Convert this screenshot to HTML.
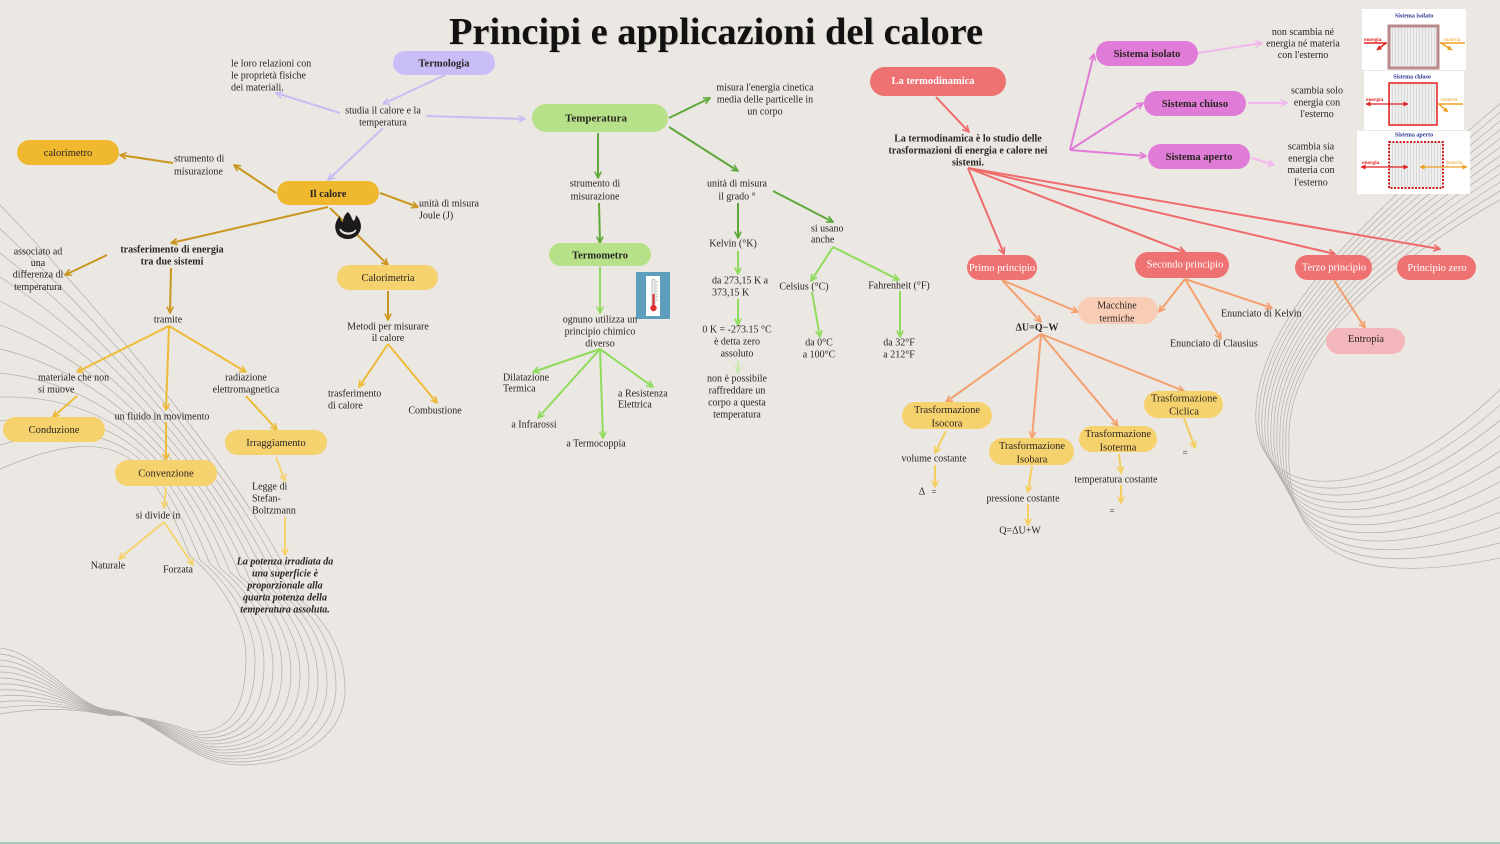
<!DOCTYPE html>
<html><head><meta charset="utf-8"><style>
html,body{margin:0;padding:0;background:#ebe7e2;}
svg{display:block;}
text{font-family:"Liberation Serif",serif;fill:#2a2522;font-size:10px;}
.b{font-weight:bold;}
.m{text-anchor:middle;}
.w{fill:#ffffff;}
</style></head><body>
<svg width="1500" height="844" viewBox="0 0 1500 844" xmlns="http://www.w3.org/2000/svg">
<defs>
<marker id="mg" viewBox="0 0 10 10" refX="9" refY="5" markerWidth="8" markerHeight="8" orient="auto" markerUnits="userSpaceOnUse"><path d="M1,1 L9,5 L1,9" fill="none" stroke="#c9971f" stroke-width="2"/></marker>
<marker id="my" viewBox="0 0 10 10" refX="9" refY="5" markerWidth="8" markerHeight="8" orient="auto" markerUnits="userSpaceOnUse"><path d="M1,1 L9,5 L1,9" fill="none" stroke="#eebb38" stroke-width="2"/></marker>
<marker id="ml" viewBox="0 0 10 10" refX="9" refY="5" markerWidth="8" markerHeight="8" orient="auto" markerUnits="userSpaceOnUse"><path d="M1,1 L9,5 L1,9" fill="none" stroke="#f5d470" stroke-width="2"/></marker>
<marker id="mv" viewBox="0 0 10 10" refX="9" refY="5" markerWidth="8" markerHeight="8" orient="auto" markerUnits="userSpaceOnUse"><path d="M1,1 L9,5 L1,9" fill="none" stroke="#c6bdf4" stroke-width="2"/></marker>
<marker id="mdg" viewBox="0 0 10 10" refX="9" refY="5" markerWidth="8" markerHeight="8" orient="auto" markerUnits="userSpaceOnUse"><path d="M1,1 L9,5 L1,9" fill="none" stroke="#5fa83a" stroke-width="2"/></marker>
<marker id="mlg" viewBox="0 0 10 10" refX="9" refY="5" markerWidth="8" markerHeight="8" orient="auto" markerUnits="userSpaceOnUse"><path d="M1,1 L9,5 L1,9" fill="none" stroke="#8fdc5c" stroke-width="2"/></marker>
<marker id="mvg" viewBox="0 0 10 10" refX="9" refY="5" markerWidth="8" markerHeight="8" orient="auto" markerUnits="userSpaceOnUse"><path d="M1,1 L9,5 L1,9" fill="none" stroke="#c6eba8" stroke-width="2"/></marker>
<marker id="mr" viewBox="0 0 10 10" refX="9" refY="5" markerWidth="8" markerHeight="8" orient="auto" markerUnits="userSpaceOnUse"><path d="M1,1 L9,5 L1,9" fill="none" stroke="#ef6b6b" stroke-width="2"/></marker>
<marker id="mo" viewBox="0 0 10 10" refX="9" refY="5" markerWidth="8" markerHeight="8" orient="auto" markerUnits="userSpaceOnUse"><path d="M1,1 L9,5 L1,9" fill="none" stroke="#f4a06e" stroke-width="2"/></marker>
<marker id="mm" viewBox="0 0 10 10" refX="9" refY="5" markerWidth="8" markerHeight="8" orient="auto" markerUnits="userSpaceOnUse"><path d="M1,1 L9,5 L1,9" fill="none" stroke="#e27ad8" stroke-width="2"/></marker>
<marker id="mp" viewBox="0 0 10 10" refX="9" refY="5" markerWidth="8" markerHeight="8" orient="auto" markerUnits="userSpaceOnUse"><path d="M1,1 L9,5 L1,9" fill="none" stroke="#f2b7ec" stroke-width="2"/></marker>
<marker id="mt" viewBox="0 0 10 10" refX="9" refY="5" markerWidth="8" markerHeight="8" orient="auto" markerUnits="userSpaceOnUse"><path d="M1,1 L9,5 L1,9" fill="none" stroke="#f5cf60" stroke-width="2"/></marker>
<marker id="sr" viewBox="0 0 10 10" refX="9" refY="5" markerWidth="5" markerHeight="5" orient="auto" markerUnits="userSpaceOnUse"><path d="M0,0 L10,5 L0,10 z" fill="#e02020"/></marker>
<marker id="so" viewBox="0 0 10 10" refX="9" refY="5" markerWidth="5" markerHeight="5" orient="auto" markerUnits="userSpaceOnUse"><path d="M0,0 L10,5 L0,10 z" fill="#f0a020"/></marker>
<marker id="sr2" viewBox="0 0 10 10" refX="1" refY="5" markerWidth="5" markerHeight="5" orient="auto" markerUnits="userSpaceOnUse"><path d="M10,0 L0,5 L10,10 z" fill="#e02020"/></marker>
<marker id="so2" viewBox="0 0 10 10" refX="1" refY="5" markerWidth="5" markerHeight="5" orient="auto" markerUnits="userSpaceOnUse"><path d="M10,0 L0,5 L10,10 z" fill="#f0a020"/></marker>
<pattern id="stripe" width="3" height="10" patternUnits="userSpaceOnUse"><rect width="3" height="10" fill="#eeeeee"/><line x1="0.5" y1="0" x2="0.5" y2="10" stroke="#d4d4d4" stroke-width="0.8"/></pattern>
</defs>

<rect width="1500" height="844" fill="#ebe7e2"/>
<rect x="0" y="842" width="1500" height="2" fill="#a7c6be"/>

<!-- background curves left -->
<g fill="none" stroke="#9f9a98" stroke-width="0.7" opacity="0.75">
<path d="M0,648 C40,652 75,708 110,710 C150,714 190,765 240,765 C300,765 345,735 345,690 C345,650 325,620 300,600 C260,500 120,330 0,205"/>
<path d="M0,654 C40,657 75,708 110,710.5 C150,714 190,762 236,762 C294,762 336,732 336,687 C336,647 315,616 290,596 C250,496 120,338 0,229"/>
<path d="M0,660 C40,662 75,708 110,711 C150,714 190,759 232,759 C288,759 327,729 327,684 C327,644 305,612 280,592 C240,492 120,346 0,253"/>
<path d="M0,666 C40,667 75,708 110,711.5 C150,714 190,756 228,756 C282,756 318,726 318,681 C318,641 295,608 270,588 C230,488 120,354 0,277"/>
<path d="M0,672 C40,672 75,708 110,712 C150,714 190,753 224,753 C276,753 309,723 309,678 C309,638 285,604 260,584 C220,484 120,362 0,301"/>
<path d="M0,678 C40,677 75,708 110,712.5 C150,714 190,750 220,750 C270,750 300,720 300,675 C300,635 275,600 250,580 C210,480 120,370 0,325"/>
<path d="M0,684 C40,682 75,708 110,713 C150,714 190,747 216,747 C264,747 291,717 291,672 C291,632 265,596 240,576 C200,476 120,378 0,349"/>
<path d="M0,690 C40,687 75,708 110,713.5 C150,714 190,744 212,744 C258,744 282,714 282,669 C282,629 255,592 230,572 C190,472 120,386 0,373"/>
<path d="M0,696 C40,692 75,708 110,714 C150,714 190,741 208,741 C252,741 273,711 273,666 C273,626 245,588 220,568 C180,468 120,394 0,397"/>
<path d="M0,702 C40,697 75,708 110,714.5 C150,714 190,738 204,738 C246,738 264,708 264,663 C264,623 235,584 210,564 C170,464 120,402 0,421"/>
<path d="M0,708 C40,702 75,708 110,715 C150,714 190,735 200,735 C240,735 255,705 255,660 C255,620 225,580 200,560 C160,460 120,410 0,445"/>
<path d="M0,714 C40,707 75,708 110,715.5 C150,714 190,732 196,732 C234,732 246,702 246,657 C246,617 215,576 190,556 C150,456 120,418 0,469"/>
</g>
<!-- background curves right -->
<g fill="none" stroke="#9f9a98" stroke-width="0.7" opacity="0.75">
<path d="M1510,95 C1400,190 1262,300 1256,410 C1250,500 1370,520 1510,380"/>
<path d="M1510,104 C1400,196 1264,304 1259,413 C1253,506 1370,526 1510,396"/>
<path d="M1510,113 C1400,202 1266,308 1262,416 C1256,512 1370,532 1510,412"/>
<path d="M1510,122 C1400,208 1268,312 1265,419 C1259,518 1370,538 1510,428"/>
<path d="M1510,131 C1400,214 1270,316 1268,422 C1262,524 1370,544 1510,444"/>
<path d="M1510,140 C1400,220 1272,320 1271,425 C1265,530 1370,550 1510,460"/>
<path d="M1510,149 C1400,226 1274,324 1274,428 C1268,536 1370,556 1510,476"/>
<path d="M1510,158 C1400,232 1276,328 1277,431 C1271,542 1370,562 1510,492"/>
<path d="M1510,167 C1400,238 1278,332 1280,434 C1274,548 1370,568 1510,508"/>
<path d="M1510,176 C1400,244 1280,336 1283,437 C1277,554 1370,574 1510,524"/>
<path d="M1510,185 C1400,250 1282,340 1286,440 C1280,560 1370,580 1510,540"/>
<path d="M1510,194 C1400,256 1284,344 1289,443 C1283,566 1370,586 1510,556"/>
</g>

<!-- Title -->
<text x="717" y="45" class="m b" style="font-size:38px;fill:#cfc9c2;" textLength="534" lengthAdjust="spacingAndGlyphs">Principi e applicazioni del calore</text>
<text x="716" y="44" class="m b" style="font-size:38px;fill:#111;" textLength="534" lengthAdjust="spacingAndGlyphs">Principi e applicazioni del calore</text>

<!-- ============ LEFT: calore ============ -->
<g fill="none" stroke-width="2">
<line x1="445" y1="75" x2="383" y2="104" stroke="#c6bdf4" marker-end="url(#mv)"/>
<line x1="340" y1="113" x2="276" y2="93" stroke="#c6bdf4" marker-end="url(#mv)"/>
<line x1="426" y1="116" x2="525" y2="119" stroke="#c6bdf4" marker-end="url(#mv)"/>
<line x1="383" y1="128" x2="328" y2="180" stroke="#c6bdf4" marker-end="url(#mv)"/>
<line x1="276" y1="193" x2="234" y2="165" stroke="#c9971f" marker-end="url(#mg)"/>
<line x1="173" y1="163" x2="120" y2="155" stroke="#c9971f" marker-end="url(#mg)"/>
<line x1="380" y1="193" x2="418" y2="207" stroke="#c9971f" marker-end="url(#mg)"/>
<line x1="328" y1="207" x2="171" y2="243" stroke="#c9971f" marker-end="url(#mg)"/>
<line x1="107" y1="255" x2="65" y2="275" stroke="#c9971f" marker-end="url(#mg)"/>
<line x1="330" y1="208" x2="388" y2="265" stroke="#c9971f" marker-end="url(#mg)"/>
<line x1="171" y1="268" x2="170" y2="313" stroke="#c9971f" marker-end="url(#mg)"/>
<line x1="388" y1="291" x2="388" y2="320" stroke="#c9971f" marker-end="url(#mg)"/>
<line x1="169" y1="326" x2="77" y2="372" stroke="#eebb38" marker-end="url(#my)"/>
<line x1="169" y1="326" x2="246" y2="372" stroke="#eebb38" marker-end="url(#my)"/>
<line x1="169" y1="326" x2="166" y2="410" stroke="#eebb38" marker-end="url(#my)"/>
<line x1="77" y1="396" x2="53" y2="417" stroke="#eebb38" marker-end="url(#my)"/>
<line x1="166" y1="422" x2="166" y2="460" stroke="#eebb38" marker-end="url(#my)"/>
<line x1="246" y1="396" x2="277" y2="430" stroke="#eebb38" marker-end="url(#my)"/>
<line x1="388" y1="344" x2="359" y2="387" stroke="#eebb38" marker-end="url(#my)"/>
<line x1="388" y1="344" x2="437" y2="403" stroke="#eebb38" marker-end="url(#my)"/>
<line x1="276" y1="457" x2="285" y2="481" stroke="#f5d470" marker-end="url(#ml)"/>
<line x1="285" y1="517" x2="285" y2="555" stroke="#f5d470" marker-end="url(#ml)"/>
<line x1="166" y1="487" x2="164" y2="508" stroke="#f5d470" marker-end="url(#ml)"/>
<line x1="164" y1="522" x2="119" y2="559" stroke="#f5d470" marker-end="url(#ml)"/>
<line x1="164" y1="522" x2="193" y2="565" stroke="#f5d470" marker-end="url(#ml)"/>
</g>

<rect x="393" y="51" width="102" height="24" rx="12" fill="#c8bdf7"/>
<text x="444" y="66.5" class="m b" style="font-size:10.5px">Termologia</text>
<text x="231" y="66.5">le loro relazioni con</text>
<text x="231" y="78.5">le proprietà fisiche</text>
<text x="231" y="90.5">dei materiali.</text>
<text x="383" y="113.5" class="m">studia il calore e la</text>
<text x="383" y="125.5" class="m">temperatura</text>

<rect x="17" y="140" width="102" height="25" rx="12.5" fill="#efb82f"/>
<text x="68" y="156" class="m" style="font-size:10.5px">calorimetro</text>
<text x="174" y="161.5">strumento di</text>
<text x="174" y="174.5">misurazione</text>

<rect x="277" y="181" width="102" height="24" rx="12" fill="#efb82f"/>
<text x="328" y="197" class="m b" style="font-size:10.5px">Il calore</text>
<text x="419" y="206.5">unità di misura</text>
<text x="419" y="218.5">Joule (J)</text>

<!-- flame icon -->
<g>
<path d="M348,212 C352,216 351,219 354,221 C356,218 356,215 356,215 C361,220 362,227 360,231 C358,236 353,239 348,239 C342,239 337,236 336,231 C334,226 336,220 340,216 C340,219 341,221 343,222 C343,218 345,214 348,212 Z" fill="#1c1a1a"/>
<path d="M340,229 C342,235 352,236 356,230 C353,234 344,235 340,229 Z" fill="#ebe7e2" stroke="#ebe7e2" stroke-width="1.5"/>
</g>

<text x="172" y="252.5" class="m b">trasferimento di energia</text>
<text x="172" y="264.5" class="m b">tra due sistemi</text>
<text x="38" y="254.5" class="m">associato ad</text>
<text x="38" y="266" class="m">una</text>
<text x="38" y="277.5" class="m">differenza di</text>
<text x="38" y="290" class="m">temperatura</text>

<rect x="337" y="265" width="101" height="25" rx="12.5" fill="#f6d26f"/>
<text x="388" y="281" class="m" style="font-size:10.5px">Calorimetria</text>
<text x="168" y="322.5" class="m">tramite</text>
<text x="388" y="329.5" class="m">Metodi per misurare</text>
<text x="388" y="341" class="m">il calore</text>
<text x="38" y="380.5">materiale che non</text>
<text x="38" y="392.5">si muove</text>
<text x="246" y="380.5" class="m">radiazione</text>
<text x="246" y="392.5" class="m">elettromagnetica</text>
<text x="328" y="396.5">trasferimento</text>
<text x="328" y="408.5">di calore</text>
<text x="435" y="413.5" class="m">Combustione</text>
<text x="162" y="419.5" class="m">un fluido in movimento</text>

<rect x="3" y="417" width="102" height="25" rx="12.5" fill="#f6d26f"/>
<text x="54" y="433" class="m" style="font-size:10.5px">Conduzione</text>
<rect x="225" y="430" width="102" height="25" rx="12.5" fill="#f6d26f"/>
<text x="276" y="446" class="m" style="font-size:10.5px">Irraggiamento</text>
<rect x="115" y="460" width="102" height="26" rx="13" fill="#f6d26f"/>
<text x="166" y="476.5" class="m" style="font-size:10.5px">Convenzione</text>

<text x="252" y="489.5">Legge di</text>
<text x="252" y="501.5">Stefan-</text>
<text x="252" y="513.5">Boltzmann</text>
<text x="158" y="518.5" class="m">si divide in</text>
<text x="108" y="568.5" class="m">Naturale</text>
<text x="178" y="572.5" class="m">Forzata</text>
<text x="285" y="564.5" class="m b" style="font-style:italic">La potenza irradiata da</text>
<text x="285" y="576.5" class="m b" style="font-style:italic">una superficie è</text>
<text x="285" y="588.5" class="m b" style="font-style:italic">proporzionale alla</text>
<text x="285" y="600.5" class="m b" style="font-style:italic">quarta potenza della</text>
<text x="285" y="612.5" class="m b" style="font-style:italic">temperatura assoluta.</text>

<!-- ============ MIDDLE: temperatura ============ -->
<g fill="none" stroke-width="2">
<line x1="669" y1="118" x2="710" y2="98" stroke="#5fa83a" marker-end="url(#mdg)"/>
<line x1="669" y1="127" x2="738" y2="171" stroke="#5fa83a" marker-end="url(#mdg)"/>
<line x1="598" y1="133" x2="598" y2="178" stroke="#5fa83a" marker-end="url(#mdg)"/>
<line x1="599" y1="203" x2="600" y2="243" stroke="#5fa83a" marker-end="url(#mdg)"/>
<line x1="738" y1="203" x2="738" y2="238" stroke="#5fa83a" marker-end="url(#mdg)"/>
<line x1="773" y1="191" x2="833" y2="222" stroke="#5fa83a" marker-end="url(#mdg)"/>
<line x1="738" y1="251" x2="738" y2="274" stroke="#8fdc5c" marker-end="url(#mlg)"/>
<line x1="738" y1="299" x2="738" y2="325" stroke="#8fdc5c" marker-end="url(#mlg)"/>
<line x1="738" y1="360" x2="738" y2="373" stroke="#c6eba8" marker-end="url(#mvg)"/>
<line x1="833" y1="247" x2="811" y2="281" stroke="#8fdc5c" marker-end="url(#mlg)"/>
<line x1="833" y1="247" x2="899" y2="280" stroke="#8fdc5c" marker-end="url(#mlg)"/>
<line x1="812" y1="292" x2="820" y2="337" stroke="#8fdc5c" marker-end="url(#mlg)"/>
<line x1="900" y1="291" x2="900" y2="337" stroke="#8fdc5c" marker-end="url(#mlg)"/>
<line x1="600" y1="267" x2="600" y2="313" stroke="#8fdc5c" marker-end="url(#mlg)"/>
<line x1="600" y1="349" x2="533" y2="372" stroke="#8fdc5c" marker-end="url(#mlg)"/>
<line x1="600" y1="349" x2="538" y2="418" stroke="#8fdc5c" marker-end="url(#mlg)"/>
<line x1="600" y1="349" x2="603" y2="438" stroke="#8fdc5c" marker-end="url(#mlg)"/>
<line x1="600" y1="349" x2="653" y2="387" stroke="#8fdc5c" marker-end="url(#mlg)"/>
</g>

<rect x="532" y="104" width="136" height="28" rx="14" fill="#b6e188"/>
<text x="596" y="121.5" class="m b" style="font-size:11px">Temperatura</text>
<text x="765" y="90.5" class="m">misura l'energia cinetica</text>
<text x="765" y="102.5" class="m">media delle particelle in</text>
<text x="765" y="114.5" class="m">un corpo</text>
<text x="595" y="186.5" class="m">strumento di</text>
<text x="595" y="199.5" class="m">misurazione</text>
<text x="737" y="186.5" class="m">unità di misura</text>
<text x="737" y="199.5" class="m">il grado °</text>
<text x="811" y="231.5">si usano</text>
<text x="811" y="242.5">anche</text>
<text x="733" y="246.5" class="m">Kelvin (°K)</text>
<rect x="549" y="243" width="102" height="23" rx="11.5" fill="#b6e188"/>
<text x="600" y="258.5" class="m b" style="font-size:10.5px">Termometro</text>
<text x="712" y="283.5">da 273,15 K a</text>
<text x="712" y="295.5">373,15 K</text>
<text x="804" y="289.5" class="m">Celsius (°C)</text>
<text x="899" y="288.5" class="m">Fahrenheit (°F)</text>

<!-- thermometer icon -->
<rect x="636" y="272" width="34" height="47" fill="#5e9ebd"/>
<rect x="646" y="276" width="14" height="40" fill="#ffffff"/>
<rect x="652" y="279" width="3" height="26" rx="1.5" fill="#f0f0f0" stroke="#888" stroke-width="0.5"/>
<rect x="652.5" y="294" width="2" height="12" fill="#e03030"/>
<circle cx="653.5" cy="308" r="3.2" fill="#e03030"/>
<g stroke="#666" stroke-width="0.5"><line x1="656" y1="282" x2="658" y2="282"/><line x1="656" y1="285" x2="658" y2="285"/><line x1="656" y1="288" x2="658" y2="288"/><line x1="656" y1="291" x2="658" y2="291"/><line x1="656" y1="294" x2="658" y2="294"/><line x1="656" y1="297" x2="658" y2="297"/><line x1="656" y1="300" x2="658" y2="300"/></g>

<text x="600" y="322.5" class="m">ognuno utilizza un</text>
<text x="600" y="334.5" class="m">principio chimico</text>
<text x="600" y="346.5" class="m">diverso</text>
<text x="737" y="332.5" class="m">0 K = -273.15 °C</text>
<text x="737" y="344.5" class="m">è detta zero</text>
<text x="737" y="356.5" class="m">assoluto</text>
<text x="819" y="345.5" class="m">da 0°C</text>
<text x="819" y="357.5" class="m">a 100°C</text>
<text x="899" y="345.5" class="m">da 32°F</text>
<text x="899" y="357.5" class="m">a 212°F</text>
<text x="503" y="380.5">Dilatazione</text>
<text x="503" y="391.5">Termica</text>
<text x="618" y="396.5">a Resistenza</text>
<text x="618" y="407.5">Elettrica</text>
<text x="737" y="381.5" class="m">non è possibile</text>
<text x="737" y="393.5" class="m">raffreddare un</text>
<text x="737" y="405.5" class="m">corpo a questa</text>
<text x="737" y="417.5" class="m">temperatura</text>
<text x="534" y="427.5" class="m">a Infrarossi</text>
<text x="596" y="446.5" class="m">a Termocoppia</text>

<!-- ============ RIGHT: termodinamica ============ -->
<g fill="none" stroke-width="2">
<line x1="936" y1="97" x2="969" y2="132" stroke="#ef6b6b" marker-end="url(#mr)"/>
<line x1="968" y1="168" x2="1004" y2="254" stroke="#ef6b6b" marker-end="url(#mr)"/>
<line x1="968" y1="168" x2="1185" y2="252" stroke="#ef6b6b" marker-end="url(#mr)"/>
<line x1="968" y1="168" x2="1335" y2="254" stroke="#ef6b6b" marker-end="url(#mr)"/>
<line x1="968" y1="168" x2="1440" y2="249" stroke="#ef6b6b" marker-end="url(#mr)"/>
<line x1="1070" y1="150" x2="1094" y2="54" stroke="#e27ad8" marker-end="url(#mm)"/>
<line x1="1070" y1="150" x2="1143" y2="103" stroke="#e27ad8" marker-end="url(#mm)"/>
<line x1="1070" y1="150" x2="1146" y2="156" stroke="#e27ad8" marker-end="url(#mm)"/>
<line x1="1198" y1="53" x2="1262" y2="43" stroke="#f2b7ec" marker-end="url(#mp)"/>
<line x1="1248" y1="103" x2="1287" y2="103" stroke="#f2b7ec" marker-end="url(#mp)"/>
<line x1="1252" y1="158" x2="1274" y2="165" stroke="#f2b7ec" marker-end="url(#mp)"/>
<line x1="1002" y1="280" x2="1041" y2="322" stroke="#f4a06e" marker-end="url(#mo)"/>
<line x1="1002" y1="280" x2="1078" y2="312" stroke="#f4a06e" marker-end="url(#mo)"/>
<line x1="1185" y1="279" x2="1159" y2="312" stroke="#f4a06e" marker-end="url(#mo)"/>
<line x1="1185" y1="279" x2="1221" y2="339" stroke="#f4a06e" marker-end="url(#mo)"/>
<line x1="1185" y1="279" x2="1272" y2="308" stroke="#f4a06e" marker-end="url(#mo)"/>
<line x1="1041" y1="334" x2="946" y2="402" stroke="#f4a06e" marker-end="url(#mo)"/>
<line x1="1041" y1="334" x2="1032" y2="438" stroke="#f4a06e" marker-end="url(#mo)"/>
<line x1="1041" y1="334" x2="1118" y2="426" stroke="#f4a06e" marker-end="url(#mo)"/>
<line x1="1041" y1="334" x2="1184" y2="391" stroke="#f4a06e" marker-end="url(#mo)"/>
<line x1="1334" y1="280" x2="1365" y2="328" stroke="#f4a06e" marker-end="url(#mo)"/>
<line x1="946" y1="431" x2="935" y2="453" stroke="#f5cf60" marker-end="url(#mt)"/>
<line x1="935" y1="465" x2="935" y2="487" stroke="#f5cf60" marker-end="url(#mt)"/>
<line x1="1032" y1="466" x2="1028" y2="492" stroke="#f5cf60" marker-end="url(#mt)"/>
<line x1="1028" y1="504" x2="1028" y2="525" stroke="#f5cf60" marker-end="url(#mt)"/>
<line x1="1119" y1="454" x2="1121" y2="473" stroke="#f5cf60" marker-end="url(#mt)"/>
<line x1="1121" y1="485" x2="1121" y2="503" stroke="#f5cf60" marker-end="url(#mt)"/>
<line x1="1184" y1="418" x2="1195" y2="448" stroke="#f5cf60" marker-end="url(#mt)"/>
</g>

<rect x="870" y="67" width="136" height="29" rx="14.5" fill="#ef7273"/>
<text x="933" y="84" class="m b w" style="font-size:10.5px">La termodinamica</text>
<text x="968" y="141.5" class="m b">La termodinamica è lo studio delle</text>
<text x="968" y="153.5" class="m b">trasformazioni di energia e calore nei</text>
<text x="968" y="165.5" class="m b">sistemi.</text>

<rect x="1096" y="41" width="102" height="25" rx="12.5" fill="#e07cd8"/>
<text x="1147" y="57" class="m b" style="font-size:10.5px">Sistema isolato</text>
<rect x="1144" y="91" width="102" height="25" rx="12.5" fill="#e07cd8"/>
<text x="1195" y="107" class="m b" style="font-size:10.5px">Sistema chiuso</text>
<rect x="1148" y="144" width="102" height="25" rx="12.5" fill="#e07cd8"/>
<text x="1199" y="160" class="m b" style="font-size:10.5px">Sistema aperto</text>

<text x="1303" y="35" class="m">non scambia né</text>
<text x="1303" y="46.5" class="m">energia né materia</text>
<text x="1303" y="58" class="m">con l'esterno</text>
<text x="1317" y="93.5" class="m">scambia solo</text>
<text x="1317" y="105.5" class="m">energia con</text>
<text x="1317" y="117" class="m">l'esterno</text>
<text x="1311" y="149.5" class="m">scambia sia</text>
<text x="1311" y="161.5" class="m">energia che</text>
<text x="1311" y="173" class="m">materia con</text>
<text x="1311" y="185.5" class="m">l'esterno</text>

<!-- system images -->
<rect x="1362" y="9" width="104" height="61" fill="#ffffff"/>
<text x="1414" y="17.5" class="m b" style="font-size:6px;fill:#2c3590">Sistema isolato</text>
<rect x="1389" y="26" width="49" height="42" fill="url(#stripe)" stroke="#b88a8a" stroke-width="3"/>
<text x="1364" y="41" style="font-size:5.5px;fill:#e02020;font-weight:bold">energia</text>
<line x1="1364" y1="43" x2="1387" y2="43" stroke="#e02020" stroke-width="1.5"/>
<line x1="1386" y1="43" x2="1377" y2="50" stroke="#e02020" stroke-width="1.5" marker-end="url(#sr)"/>
<text x="1444" y="41" style="font-size:5.5px;fill:#f0a020">materia</text>
<line x1="1440" y1="43" x2="1465" y2="43" stroke="#f0a020" stroke-width="1.5"/>
<line x1="1441" y1="43" x2="1452" y2="50" stroke="#f0a020" stroke-width="1.5" marker-end="url(#so)"/>

<rect x="1364" y="71" width="100" height="59" fill="#ffffff"/>
<text x="1412" y="78.5" class="m b" style="font-size:6px;fill:#2c3590">Sistema chiuso</text>
<rect x="1389" y="83" width="48" height="42" fill="url(#stripe)" stroke="#e02020" stroke-width="1.5"/>
<text x="1366" y="101" style="font-size:5.5px;fill:#e02020;font-weight:bold">energia</text>
<line x1="1366" y1="104" x2="1408" y2="104" stroke="#e02020" stroke-width="1.2" marker-start="url(#sr2)" marker-end="url(#sr)"/>
<text x="1441" y="101" style="font-size:5.5px;fill:#f0a020">materia</text>
<line x1="1438" y1="104" x2="1463" y2="104" stroke="#f0a020" stroke-width="1.5"/>
<line x1="1439" y1="104" x2="1448" y2="112" stroke="#f0a020" stroke-width="1.5" marker-end="url(#so)"/>

<rect x="1357" y="131" width="113" height="63" fill="#ffffff"/>
<text x="1414" y="136.5" class="m b" style="font-size:6px;fill:#2c3590">Sistema aperto</text>
<rect x="1389" y="142" width="54" height="46" fill="url(#stripe)" stroke="#d02020" stroke-width="2" stroke-dasharray="2,1.5"/>
<text x="1362" y="164" style="font-size:5.5px;fill:#e02020;font-weight:bold">energia</text>
<line x1="1361" y1="167" x2="1408" y2="167" stroke="#e02020" stroke-width="1.2" marker-start="url(#sr2)" marker-end="url(#sr)"/>
<text x="1446" y="164" style="font-size:5.5px;fill:#f0a020">materia</text>
<line x1="1420" y1="167" x2="1467" y2="167" stroke="#f0a020" stroke-width="1.2" marker-start="url(#so2)" marker-end="url(#so)"/>

<rect x="967" y="255" width="70" height="25" rx="12.5" fill="#ef7273"/>
<text x="1002" y="271" class="m w" style="font-size:10.5px">Primo principio</text>
<rect x="1135" y="252" width="94" height="26" rx="13" fill="#ef7273"/>
<text x="1185" y="267.5" class="m w" style="font-size:10.5px">Secondo principio</text>
<rect x="1295" y="255" width="77" height="25" rx="12.5" fill="#ef7273"/>
<text x="1334" y="270.5" class="m w" style="font-size:10.5px">Terzo principio</text>
<rect x="1397" y="255" width="79" height="25" rx="12.5" fill="#ef7273"/>
<text x="1437" y="271" class="m w" style="font-size:10.5px">Principio zero</text>

<rect x="1078" y="297" width="80" height="27" rx="13.5" fill="#f9cdb5"/>
<text x="1117" y="308.5" class="m">Macchine</text>
<text x="1117" y="321.5" class="m">termiche</text>
<text x="1037" y="330.5" class="m b">ΔU=Q−W</text>
<text x="1221" y="316.5">Enunciato di Kelvin</text>
<text x="1170" y="346.5">Enunciato di Clausius</text>
<rect x="1326" y="328" width="79" height="26" rx="13" fill="#f3b6ba"/>
<text x="1366" y="342" class="m" style="font-size:10.5px">Entropia</text>

<rect x="1144" y="391" width="79" height="27" rx="13.5" fill="#f6d26f"/>
<text x="1184" y="401.5" class="m" style="font-size:10.5px">Trasformazione</text>
<text x="1184" y="414.5" class="m" style="font-size:10.5px">Ciclica</text>
<rect x="902" y="402" width="90" height="27" rx="13.5" fill="#f6d26f"/>
<text x="947" y="413" class="m" style="font-size:10.5px">Trasformazione</text>
<text x="947" y="426.5" class="m" style="font-size:10.5px">Isocora</text>
<rect x="1079" y="426" width="78" height="26" rx="13" fill="#f6d26f"/>
<text x="1118" y="437" class="m" style="font-size:10.5px">Trasformazione</text>
<text x="1118" y="450.5" class="m" style="font-size:10.5px">Isoterma</text>
<rect x="989" y="438" width="85" height="27" rx="13.5" fill="#f6d26f"/>
<text x="1032" y="449" class="m" style="font-size:10.5px">Trasformazione</text>
<text x="1032" y="462.5" class="m" style="font-size:10.5px">Isobara</text>

<text x="1185" y="456" class="m" style="font-size:9px">=</text>
<text x="934" y="461.5" class="m">volume costante</text>
<text x="1116" y="482.5" class="m">temperatura costante</text>
<text x="922" y="494.5" class="m">Δ</text>
<text x="934" y="494.5" class="m" style="font-size:9px">=</text>
<text x="1023" y="501.5" class="m">pressione costante</text>
<text x="1112" y="513.5" class="m" style="font-size:9px">=</text>
<text x="1020" y="533.5" class="m">Q=ΔU+W</text>
</svg>
</body></html>
